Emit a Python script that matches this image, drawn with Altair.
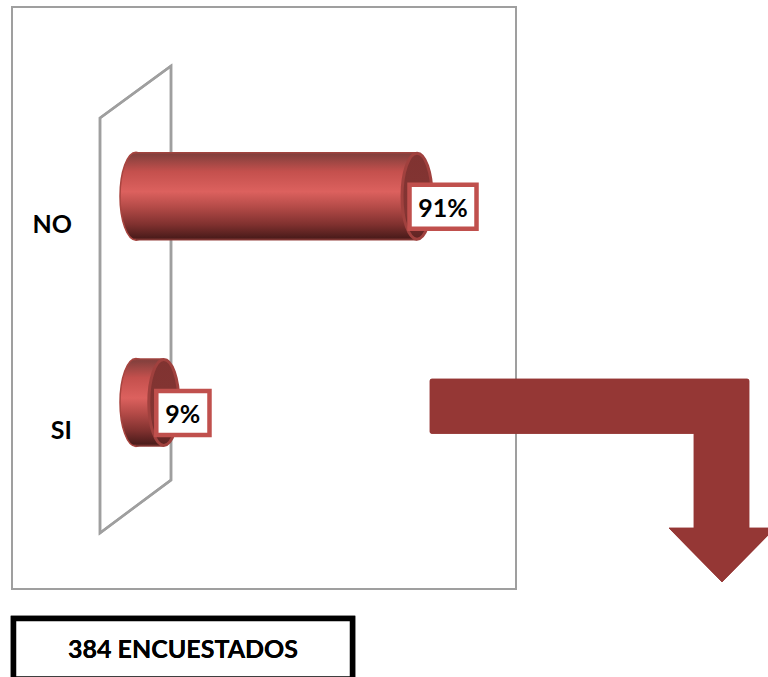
import altair as alt
import pandas as pd

categories = ["NO", "SI"]
percentages = [91, 9]
respondents_note = "384 ENCUESTADOS"

FONT = "Lato"
GRAY = "#9f9f9f"
ACCENT = "#c0504d"
ARROW = "#953735"

table = pd.DataFrame({"respuesta": categories, "valor": percentages})
table["etiqueta"] = table["valor"].astype(str) + "%"

# The value scale starts at the wall of the 3D-style chart: 3.088 px per percent.
PX_PER_UNIT = 3.088
ORIGIN = 136
x_scale = alt.Scale(domain=[-ORIGIN / PX_PER_UNIT, (768 - ORIGIN) / PX_PER_UNIT],
                    range=[0, 768], nice=False, zero=False)
y_scale = alt.Scale(domain=categories, range=[93, 505.5], paddingInner=0, paddingOuter=0)


def ellipse(rx, ry):
    """Closed ellipse as an SVG path; with size=4 a path unit is one pixel."""
    k = 0.5523
    return (f"M{-rx},0 C{-rx},{-k*ry} {-k*rx},{-ry} 0,{-ry} "
            f"C{k*rx},{-ry} {rx},{-k*ry} {rx},0 "
            f"C{rx},{k*ry} {k*rx},{ry} 0,{ry} "
            f"C{-k*rx},{ry} {-rx},{k*ry} {-rx},0 Z")


cylinder_fill = alt.Gradient(
    gradient="linear", x1=0, x2=0, y1=0, y2=1,
    stops=[
        alt.GradientStop(offset=0, color="#a8443f"),
        alt.GradientStop(offset=0.03, color="#84403d"),
        alt.GradientStop(offset=0.22, color="#c4504d"),
        alt.GradientStop(offset=0.45, color="#dc615e"),
        alt.GradientStop(offset=0.62, color="#b54b48"),
        alt.GradientStop(offset=0.82, color="#80312f"),
        alt.GradientStop(offset=0.97, color="#4c1c1b"),
        alt.GradientStop(offset=1, color="#93403c"),
    ],
)
cap_fill = alt.Gradient(
    gradient="linear", x1=0, x2=0, y1=0, y2=1,
    stops=[
        alt.GradientStop(offset=0, color="#803331"),
        alt.GradientStop(offset=0.7, color="#843533"),
        alt.GradientStop(offset=1, color="#5e2322"),
    ],
)

x_pos = alt.X("valor:Q", scale=x_scale, axis=None, stack=None)
y_pos = alt.Y("respuesta:N", scale=y_scale, sort=categories, axis=None)
base = alt.Chart(table)

# Picture frame and the slanted back wall.
frame = alt.Chart(table).mark_rect(fill="white", stroke=GRAY, strokeWidth=2).encode(
    x=alt.value(12), x2=alt.value(516), y=alt.value(7), y2=alt.value(589)
)
wall = alt.Chart(table).mark_point(
    shape="M100,118 L171,66 L171,480 L100,533 Z",
    size=4, filled=False, stroke=GRAY, strokeWidth=2.5, opacity=1,
).encode(x=alt.value(0), y=alt.value(0))

# Cylinders: rounded back, gradient body, dark open end.
back = base.mark_point(
    shape=ellipse(16, 44), size=4, filled=True, fill=cylinder_fill,
    stroke="#a8443f", strokeWidth=1.5, opacity=1,
).encode(x=alt.X("zero:Q", scale=x_scale, axis=None), y=y_pos).transform_calculate(zero="0")
body = base.mark_bar(size=88.5, fill=cylinder_fill).encode(x=x_pos, y=y_pos)
cap = base.mark_point(
    shape=ellipse(15, 43), size=4, filled=True, fill=cap_fill,
    stroke="#a0413e", strokeWidth=3, opacity=1,
).encode(x=x_pos, y=y_pos)

# Category names sit left of the wall, slightly below each cylinder's axis.
category_labels = base.mark_text(
    font=FONT, fontSize=25, fontWeight="bold", color="black", align="right",
    baseline="middle", dy=29,
).encode(x=alt.value(72), y=y_pos, text="respuesta:N")

# Value labels in white boxes; each box is as wide as its text needs.
label_layers = []
for cat, right, text_dx in [("NO", 59.5, 26), ("SI", 45.7, 19)]:
    one = alt.Chart(table).transform_filter(alt.datum.respuesta == cat)
    label_layers.append(one.mark_point(
        shape=f"M-7.5,-11.5 H{right} V32.5 H-7.5 Z", size=4, filled=True, fill="white",
        stroke=ACCENT, strokeWidth=4.5, opacity=1,
    ).encode(x=x_pos, y=y_pos))
    label_layers.append(one.mark_text(
        font=FONT, fontSize=25, fontWeight="bold", color="black", dx=text_dx, dy=12.5,
        align="center", baseline="middle",
    ).encode(x=x_pos, y=y_pos, text="etiqueta:N"))

# Bent arrow leaving the chart towards the lower right.
arrow = alt.Chart(table).mark_point(
    shape=("M432,379 L747,379 Q749,379 749,381 L749,528 L775,528 L722,582 L669,528 "
           "L694,528 L694,433.5 L432,433.5 Q430,433.5 430,431.5 L430,381 Q430,379 432,379 Z"),
    size=4, filled=True, fill=ARROW, stroke=ARROW, strokeWidth=0.5, opacity=1,
).encode(x=alt.value(0), y=alt.value(0))

# Sample-size caption box at the foot of the page.
note_box = alt.Chart(table).mark_rect(fill="white", stroke="black", strokeWidth=5.5).encode(
    x=alt.value(13.5), x2=alt.value(352.5), y=alt.value(618.5), y2=alt.value(679)
)
note_text = alt.Chart(table).mark_text(
    text=respondents_note, font=FONT, fontSize=25, fontWeight="bold", color="black",
    align="center", baseline="middle",
).encode(x=alt.value(183), y=alt.value(650))

chart = alt.layer(
    frame, wall, back, body, cap, category_labels, *label_layers, arrow, note_box, note_text
).properties(
    width=768, height=677, padding=0, autosize=alt.AutoSizeParams(type="none"),
    background="white",
).configure_view(stroke=None)

chart.save("out.html", embed_options={"renderer": "svg", "actions": False})
